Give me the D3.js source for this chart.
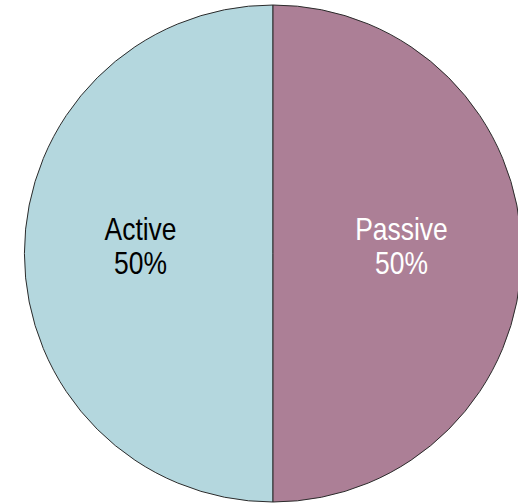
<!DOCTYPE html>
<html>
<head>
<meta charset="utf-8">
<script src="https://cdn.jsdelivr.net/npm/d3@7"></script>
<style>
html,body{margin:0;padding:0;background:#fff;}
svg{display:block;}
</style>
</head>
<body>
<svg id="chart" width="518" height="503"></svg>
<script>
const categories = ["Active", "Passive"];
const values = [50, 50];
const colors = ["#b4d7de", "#ac7f96"];
const textColors = ["#000000", "#ffffff"];

const svg = d3.select("#chart");
const cx = 273, cy = 253.5, r = 248.5;
const g = svg.append("g").attr("transform", `translate(${cx},${cy})`);

const data = categories.map((c, i) => ({cat: c, value: values[i], color: colors[i], tc: textColors[i]}));
const pie = d3.pie().value(d => d.value).sort(null).startAngle(Math.PI * 2).endAngle(0);
const arcs = pie(data);
const arc = d3.arc().innerRadius(0).outerRadius(r);
const labelArc = d3.arc().innerRadius(r * 0.525).outerRadius(r * 0.525);

g.selectAll("path.slice").data(arcs).enter().append("path")
  .attr("class", "slice")
  .attr("d", arc)
  .attr("fill", d => d.data.color)
  .attr("stroke", "#2b2b2b")
  .attr("stroke-width", 1);

const labels = g.selectAll("g.label").data(arcs).enter().append("g")
  .attr("class", "label")
  .attr("transform", d => {
    const [x, y] = labelArc.centroid(d);
    return `translate(${x - 2},${y - 8}) scale(0.84,1)`;
  });
labels.append("text")
  .attr("text-anchor", "middle")
  .attr("font-family", "'Liberation Sans', Arial, sans-serif")
  .attr("font-size", 31.5)
  .attr("fill", d => d.data.tc)
  .each(function(d) {
    const t = d3.select(this);
    t.append("tspan").attr("x", 0).attr("y", -6).text(d.data.cat);
    t.append("tspan").attr("x", 0).attr("y", 29).text(d3.format(".0f")(d.data.value) + "%");
  });
</script>
</body>
</html>
